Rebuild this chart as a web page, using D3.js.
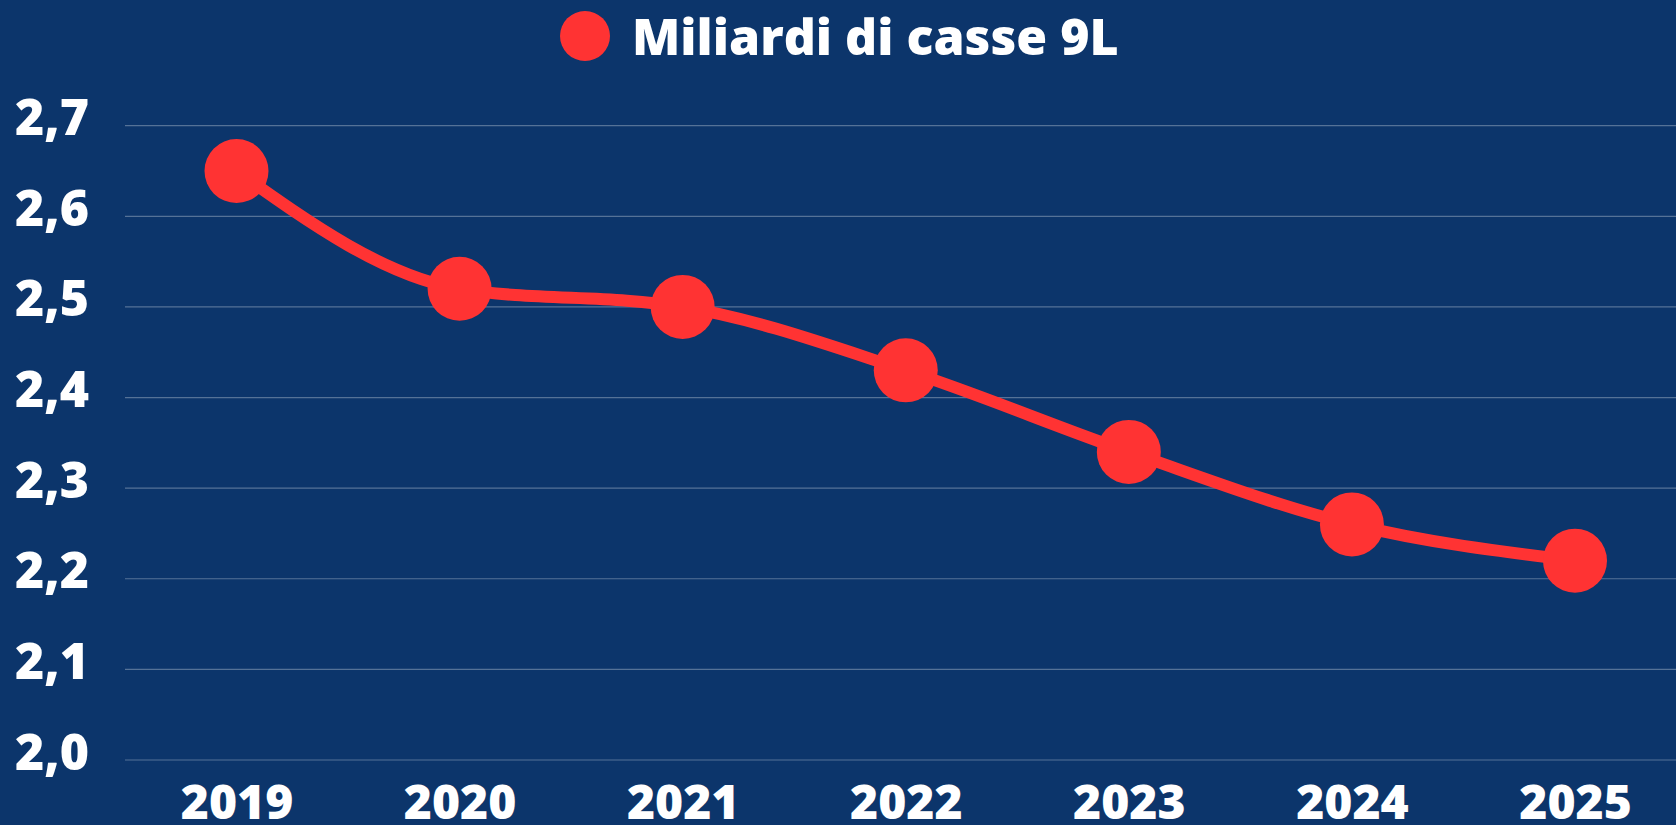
<!DOCTYPE html>
<html>
<head>
  <meta charset="UTF-8">
  <title>Miliardi di casse 9L</title>
  <script src="https://cdn.jsdelivr.net/npm/d3@7"></script>
  <style>
    html, body { margin: 0; padding: 0; background: #0c356b; }
    svg { display: block; font-family: "Open Sans", "Noto Sans", sans-serif; }
  </style>
</head>
<body>

<div class="chart"></div>

<script>

  var years = ['2019', '2020', '2021', '2022', '2023', '2024', '2025'];
  var values = [2.65, 2.52, 2.50, 2.43, 2.34, 2.26, 2.22];
  var yTicks = [2.0, 2.1, 2.2, 2.3, 2.4, 2.5, 2.6, 2.7];
  var seriesName = 'Miliardi di casse 9L';

  var W = 1676, H = 825;
  var red = '#ff3333';

  var svg = d3.select('.chart')
    .append('svg')
      .attr('width', W)
      .attr('height', H);

  svg.append('rect')
    .attr('width', W)
    .attr('height', H)
    .attr('fill', '#0c356b');

  // scales
  var x = d3.scalePoint()
    .domain(years)
    .range([236.5, 1575]);

  var y = d3.scaleLinear()
    .domain([2.0, 2.7])
    .range([760, 125.7]);

  // grid lines
  svg.append('g')
    .selectAll('line')
    .data(yTicks)
    .enter()
    .append('line')
      .attr('x1', 125)
      .attr('x2', W)
      .attr('y1', d => y(d))
      .attr('y2', d => y(d))
      .attr('stroke', 'rgba(255,255,255,0.3)')
      .attr('stroke-width', 1.2);

  // y axis labels
  var fmt = d => d.toFixed(1).replace('.', ',');
  var yAxis = d3.axisLeft(y)
    .tickValues(yTicks)
    .tickFormat(fmt)
    .tickSize(0)
    .tickPadding(0);
  var gy = svg.append('g')
    .attr('transform', 'translate(89, 0)')
    .call(yAxis);
  gy.select('.domain').remove();
  gy.selectAll('text')
    .attr('fill', '#fff')
    .attr('font-size', 50)
    .attr('font-weight', 800)
    .attr('font-family', '"Open Sans", sans-serif')
    .attr('dy', '0.18em');

  // x axis labels
  var xAxis = d3.axisBottom(x)
    .tickSize(0)
    .tickPadding(0);
  var gx = svg.append('g')
    .attr('transform', 'translate(0, 819)')
    .call(xAxis);
  gx.select('.domain').remove();
  gx.selectAll('text')
    .attr('fill', '#fff')
    .attr('font-size', 48)
    .attr('font-weight', 800)
    .attr('font-family', '"Open Sans", sans-serif')
    .attr('dy', 0)
    .attr('y', 0);

  // line
  var line = d3.line()
    .x((d, i) => x(years[i]))
    .y(d => y(d))
    .curve(d3.curveMonotoneX);

  svg.append('path')
    .datum(values)
    .attr('d', line)
    .attr('fill', 'none')
    .attr('stroke', red)
    .attr('stroke-width', 12);

  svg.append('g')
    .selectAll('circle')
    .data(values)
    .enter()
    .append('circle')
      .attr('cx', (d, i) => x(years[i]))
      .attr('cy', d => y(d))
      .attr('r', 32)
      .attr('fill', red);

  // legend
  var legend = svg.append('g');
  legend.append('circle')
    .attr('cx', 585)
    .attr('cy', 36)
    .attr('r', 25)
    .attr('fill', red);
  legend.append('text')
    .attr('x', 632)
    .attr('y', 55)
    .attr('fill', '#fff')
    .attr('font-size', 50)
    .attr('font-weight', 800)
    .text(seriesName);

</script>

</body>
</html>
